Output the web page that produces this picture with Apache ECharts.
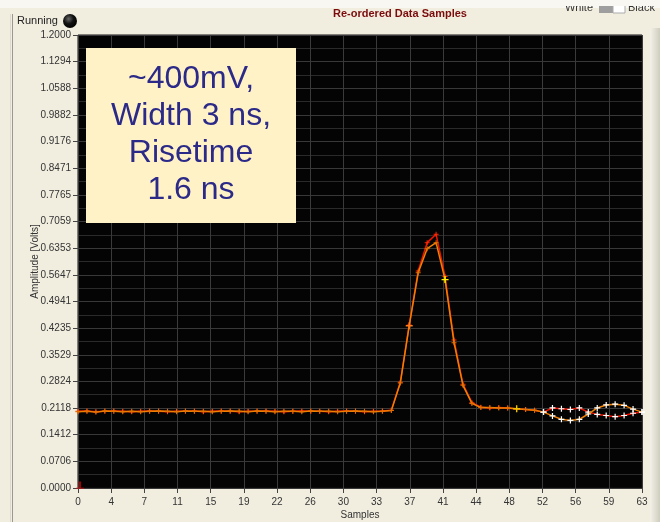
<!DOCTYPE html>
<html><head><meta charset="utf-8">
<script src="https://cdn.jsdelivr.net/npm/echarts@6/dist/echarts.min.js"></script>
<style>html,body{margin:0;padding:0;background:#F1EEE0;overflow:hidden}#c{width:660px;height:522px}</style>
</head><body><div id="c"></div>
<script>
// ---- data ----
const sampleMin = 0;
const sampleMax = 63;
const xDivisions = 17;
const yMin = 0;
const yMax = 1.2;
const yDivisions = 17;
const redValues = [
  0.203,0.204,0.202,0.203,0.204,0.203,0.202,0.203,0.204,0.203,
  0.202,0.203,0.203,0.204,0.202,0.203,0.204,0.203,0.202,0.203,
  0.203,0.204,0.203,0.202,0.203,0.204,0.203,0.203,0.202,0.203,
  0.204,0.203,0.202,0.203,0.204,
  0.206,0.280,0.432,0.575,0.650,0.672,0.560,0.392,0.275,0.226,
  0.214,0.212,0.213,0.212,0.209,0.208,0.206,0.201,0.212,0.210,
  0.208,0.212,0.201,0.195,0.192,0.189,0.192,0.198,0.201
];
const orangeValues = [
  0.202,0.203,0.201,0.204,0.203,0.202,0.203,0.202,0.203,0.204,
  0.203,0.202,0.204,0.203,0.203,0.202,0.203,0.204,0.203,0.202,
  0.204,0.203,0.202,0.203,0.203,0.202,0.204,0.203,0.203,0.202,
  0.203,0.204,0.203,0.202,0.203,
  0.205,0.278,0.430,0.570,0.634,0.650,0.552,0.385,0.272,0.224,
  0.213,0.213,0.212,0.212,0.210,0.208,0.206,0.201,0.191,0.182,
  0.179,0.182,0.196,0.212,0.220,0.222,0.219,0.209,0.201
];
const whiteMarkerFrom = 52;
const cursorMarkers = { 37: '#ff7a1a', 41: '#ffee00', 49: '#e6c400' };
const cursorPoint = [[0, 0]];
const noteLines = ['~400mV,', 'Width 3 ns,', 'Risetime', '1.6 ns'];
const titleText = 'Re-ordered Data Samples';
const xAxisName = 'Samples';
const yAxisName = 'Amplitude [Volts]';

// ---- chart ----
const PLUS = 'path://M2,0H3V2H5V3H3V5H2V3H0V2H2Z';
const FONT = '"Liberation Sans Narrow","Arial Narrow","Liberation Sans",Arial,sans-serif';

function buildData(values, withCursor) {
  return values.map((v, i) => {
    const item = { value: [i, v] };
    if (i >= whiteMarkerFrom) {
      item.itemStyle = { color: '#ffffff' };
      item.symbolSize = 6;
    } else if (withCursor && cursorMarkers[i]) {
      item.itemStyle = { color: cursorMarkers[i] };
      item.symbolSize = 7;
    }
    return item;
  });
}

const chart = echarts.init(document.getElementById('c'), null, { renderer: 'canvas' });
const noteGraphics = noteLines.map((t, k) => ({
  type: 'text', z: 101,
  style: { text: t, x: 191, y: 79 + k * 37, fill: '#2C2A88', font: '32px "Liberation Sans", Arial, sans-serif', textAlign: 'center', textVerticalAlign: 'middle' }
}));

chart.setOption({
  backgroundColor: '#F1EEE0',
  animation: false,
  grid: { left: 78, right: 18, top: 35, bottom: 34, outerBoundsMode: 'none', containLabel: false, show: true, backgroundColor: '#040404', borderColor: '#111', borderWidth: 1 },
  xAxis: {
    type: 'value', min: sampleMin, max: sampleMax, interval: (sampleMax - sampleMin) / xDivisions,
    name: xAxisName, nameLocation: 'middle', nameGap: 22, nameMoveOverlap: false,
    nameTextStyle: { color: '#333', fontSize: 10, fontFamily: FONT },
    axisLine: { show: false },
    axisTick: { show: true, length: 5, lineStyle: { color: '#444' } },
    axisLabel: { color: '#333', fontSize: 10, fontFamily: FONT, margin: 9, formatter: v => String(Math.round(v)) },
    splitLine: { show: true, lineStyle: { color: '#3a3a3a', width: 1 } }
  },
  yAxis: {
    type: 'value', min: yMin, max: yMax, interval: (yMax - yMin) / yDivisions,
    name: yAxisName, nameLocation: 'middle', nameGap: 38, nameRotate: 90, nameMoveOverlap: false,
    nameTextStyle: { color: '#333', fontSize: 10, fontFamily: FONT },
    axisLine: { show: false },
    axisTick: { show: true, length: 5, lineStyle: { color: '#444' } },
    axisLabel: { color: '#333', fontSize: 10, fontFamily: FONT, margin: 7, formatter: v => v.toFixed(4) },
    splitLine: { show: true, lineStyle: { color: '#383838', width: 1 } },
    minorTick: { show: false, splitNumber: 2 },
    minorSplitLine: { show: true, lineStyle: { color: '#2a2a2a', width: 1 } }
  },
  series: [
    {
      type: 'line', name: 'A', data: buildData(redValues, false),
      symbol: PLUS, symbolSize: 5, showAllSymbol: true,
      lineStyle: { color: '#f01400', width: 1.5 }, itemStyle: { color: '#ff2a00' }, z: 3
    },
    {
      type: 'line', name: 'B', data: buildData(orangeValues, true),
      symbol: PLUS, symbolSize: 5, showAllSymbol: true,
      lineStyle: { color: '#f08000', width: 1.5 }, itemStyle: { color: '#e07000' }, z: 4
    },
    {
      type: 'scatter', data: cursorPoint, z: 5,
      symbol: 'path://M0,10H10V9H6V0H4V9H0Z', symbolSize: [8, 7], symbolOffset: [2, -3],
      itemStyle: { color: '#ff0000' }
    }
  ],
  graphic: [
    { type: 'rect', z: -1, shape: { x: 0, y: 0, width: 660, height: 8 }, style: { fill: '#F8F7F2' } },
    { type: 'line', z: 1, shape: { x1: 12.5, y1: 14, x2: 12.5, y2: 522 }, style: { stroke: '#9a9890', lineWidth: 1 } },
    { type: 'line', z: 1, shape: { x1: 10.5, y1: 14, x2: 10.5, y2: 522 }, style: { stroke: '#dcdacd', lineWidth: 1 } },
    { type: 'rect', z: 1, shape: { x: 650, y: 28, width: 10, height: 494 },
      style: { fill: new echarts.graphic.LinearGradient(0, 0, 1, 0, [{ offset: 0, color: '#F4F2E8' }, { offset: 1, color: '#CFCDBF' }]) } },
    { type: 'text', z: 10, style: { text: 'Running', x: 17, y: 21, fill: '#222', font: '11px ' + FONT, textVerticalAlign: 'middle' } },
    { type: 'circle', z: 10, shape: { cx: 70, cy: 21, r: 7 },
      style: { fill: new echarts.graphic.RadialGradient(0.4, 0.35, 0.7, [{ offset: 0, color: '#666' }, { offset: 0.5, color: '#111' }, { offset: 1, color: '#000' }]) } },
    { type: 'text', z: 10, style: { text: titleText, x: 400, y: 14, fill: '#7a0c0c', font: 'bold 11px ' + FONT, textAlign: 'center', textVerticalAlign: 'middle' } },
    { type: 'text', z: 10, style: { text: 'White', x: 593, y: 8, fill: '#333', font: '11px ' + FONT, textAlign: 'right', textVerticalAlign: 'middle' } },
    { type: 'rect', z: 10, shape: { x: 599, y: 3, width: 14, height: 10 }, style: { fill: '#9e9e9e' } },
    { type: 'rect', z: 10, shape: { x: 613, y: 3, width: 12, height: 10 }, style: { fill: '#ffffff', stroke: '#aaa', lineWidth: 1 } },
    { type: 'text', z: 10, style: { text: 'Black', x: 628, y: 8, fill: '#333', font: '11px ' + FONT, textVerticalAlign: 'middle' } },
    { type: 'rect', z: 11, shape: { x: 540, y: 0, width: 120, height: 6 }, style: { fill: '#F8F7F2' } },
    { type: 'rect', z: 100, shape: { x: 86, y: 48, width: 210, height: 175 }, style: { fill: '#FFF2C6' } }
  ].concat(noteGraphics)
});
</script>
</body></html>
